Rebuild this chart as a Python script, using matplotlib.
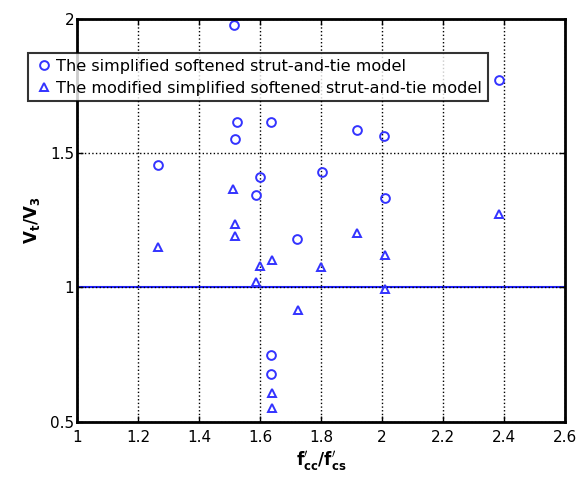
import numpy as np
import matplotlib
matplotlib.use("Agg")
import matplotlib.pyplot as plt

plt.rcParams['font.family'] = ['DejaVu Sans']

# The simplified softened strut-and-tie model
sst_x = [1.516, 1.524, 1.519, 1.635, 1.266, 1.600, 1.587, 2.385, 1.919,
         2.008, 1.802, 2.009, 1.722, 1.635, 1.635]
sst_y = [1.976, 1.617, 1.551, 1.614, 1.455, 1.412, 1.344, 1.772, 1.586,
         1.563, 1.428, 1.331, 1.180, 0.748, 0.676]

# The modified simplified softened strut-and-tie model
msst_x = [1.513, 1.519, 1.519, 1.266, 1.638, 1.600, 1.587, 1.638, 1.638,
          1.800, 2.010, 2.010, 1.726, 2.385, 1.919]
msst_y = [1.366, 1.235, 1.190, 1.149, 1.102, 1.079, 1.021, 0.606, 0.550,
          1.077, 1.120, 0.993, 0.916, 1.272, 1.201]

xticks = [1, 1.2, 1.4, 1.6, 1.8, 2, 2.2, 2.4, 2.6]
yticks = [0.5, 1, 1.5, 2]

fig = plt.figure(figsize=(5.77, 4.79), dpi=100)
ax = fig.add_axes([0.1335, 0.1196, 0.8455, 0.8414])

ax.plot(sst_x, sst_y, 'o', ms=6.3, mfc='none', mec='#3333ff', mew=1.4,
        label='The simplified softened strut-and-tie model')
ax.plot(msst_x, msst_y, '^', ms=6, mfc='none', mec='#3333ff', mew=1.4,
        label='The modified simplified softened strut-and-tie model')
ax.axhline(1, color='#2020ff', lw=1.5, zorder=1)

ax.set_xlim(1, 2.6)
ax.set_ylim(0.5, 2)
ax.set_xticks(xticks)
ax.set_xticklabels(['1', '1.2', '1.4', '1.6', '1.8', '2', '2.2', '2.4', '2.6'])
ax.set_yticks(yticks)
ax.set_yticklabels(['0.5', '1', '1.5', '2'])
ax.tick_params(direction='in', length=4, labelsize=11, width=1, top=True, right=True)
ax.tick_params(axis='x', pad=6)
ax.tick_params(axis='y', pad=2)
ax.grid(True, ls=':', color='black', lw=1)
for s in ax.spines.values():
    s.set_linewidth(2)

ax.set_xlabel(r"$\mathbf{f^{\prime}_{cc}/f^{\prime}_{cs}}$", fontsize=12, labelpad=3)
ax.set_ylabel(r"$\mathbf{V_t/V_3}$", fontsize=12, labelpad=6)

leg = ax.legend(loc='upper left', bbox_to_anchor=(-0.1, 0.915), fontsize=11.6,
                frameon=True, fancybox=False, edgecolor='black',
                borderpad=0.35, handletextpad=0.2, handlelength=1.2,
                labelspacing=0.45, borderaxespad=0)
leg.get_frame().set_linewidth(1.5)

fig.savefig('out.png', dpi=100)
